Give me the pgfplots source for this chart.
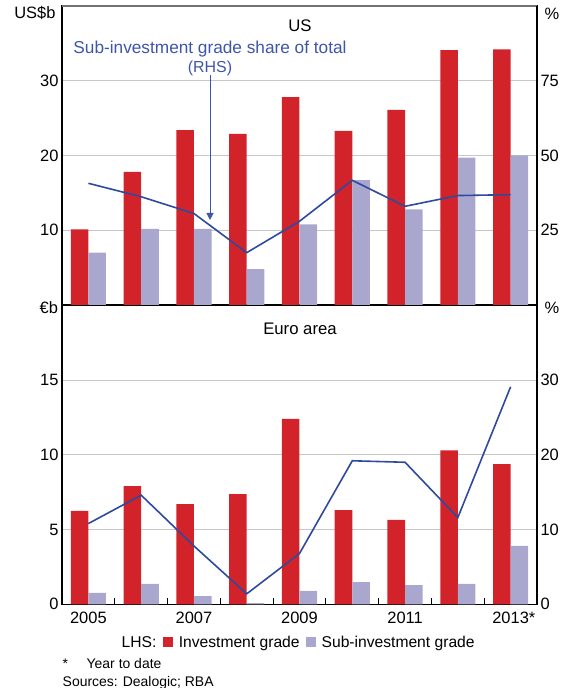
\documentclass[border=0pt]{standalone}
\usepackage{fontspec}
\setmainfont{Liberation Sans}
\usepackage{pgfplots}
\pgfplotsset{compat=1.18}
\usetikzlibrary{arrows.meta}
\definecolor{ig}{HTML}{D2232A}
\definecolor{sig}{HTML}{A9A7CE}
\definecolor{lineblue}{HTML}{2E4A9E}
\definecolor{txtblue}{HTML}{3D56AA}
\pgfplotsset{
  base/.style={
    scale only axis, width=475bp, height=299bp,
    xmin=-0.5, xmax=8.5,
    anchor=south west,
    /pgf/number format/assume math mode=true,
    tick label style={font=\fontsize{16.5}{19}\selectfont},
    ytick style={draw=none},
    axis line style={line width=1.2bp, black},
  },
  igbar/.style={ybar, bar width=0.333, bar shift=-0.1667, fill=ig, draw=none},
  sigbar/.style={ybar, bar width=0.333, bar shift=0.1667, fill=sig, draw=none},
  shareline/.style={lineblue, line width=1.6bp, mark=none},
}
\begin{document}
\begin{tikzpicture}
\useasboundingbox (0,0) rectangle (572bp,688bp);
% ---------------- US panel ----------------
\begin{axis}[base, at={(62bp,383bp)},
  ymin=0, ymax=40, ytick={10,20,30}, xtick=\empty,
  ymajorgrids, grid style={line width=1bp, color=black!22},
  yticklabel pos=left]
\addplot[igbar] coordinates {(0,10.1) (1,17.8) (2,23.4) (3,22.9) (4,27.8) (5,23.3) (6,26.1) (7,34.1) (8,34.2)};
\addplot[sigbar] coordinates {(0,7.0) (1,10.2) (2,10.2) (3,4.8) (4,10.8) (5,16.7) (6,12.8) (7,19.7) (8,20.0)};
\draw[black!55, line width=1.2bp] (rel axis cs:0,1) -- (rel axis cs:1,1);
\end{axis}
\begin{axis}[base, at={(62bp,383bp)},
  ymin=0, ymax=100, ytick={25,50,75}, xtick=\empty,
  axis y line*=right, axis x line=none]
\addplot[shareline] coordinates {(0,40.7) (1,36.2) (2,30.6) (3,17.5) (4,28.0) (5,41.7) (6,33.0) (7,36.6) (8,36.9)};
\end{axis}
% ---------------- Euro area panel ----------------
\begin{axis}[base, at={(62bp,83.7bp)},
  ymin=0, ymax=20, ytick={0,5,10,15},
  ymajorgrids, grid style={line width=1bp, color=black!22},
  yticklabel pos=left,
  xtick={0,...,8}, xticklabels={2005,,2007,,2009,,2011,,2013\rlap{*}},
  minor x tick num=1, xtick pos=left, tick align=inside,
  major tick length=0bp, minor tick length=6bp,
  minor x tick style={line width=1.2bp, black},
  xticklabel style={yshift=-4bp}]
\addplot[igbar] coordinates {(0,6.25) (1,7.9) (2,6.7) (3,7.37) (4,12.4) (5,6.3) (6,5.64) (7,10.3) (8,9.38)};
\addplot[sigbar] coordinates {(0,0.76) (1,1.36) (2,0.55) (3,0.08) (4,0.89) (5,1.49) (6,1.29) (7,1.36) (8,3.9)};
\end{axis}
\begin{axis}[base, at={(62bp,83.7bp)},
  ymin=0, ymax=40, ytick={0,10,20,30}, xtick=\empty,
  axis y line*=right, axis x line=none]
\addplot[shareline] coordinates {(0,10.8) (1,14.6) (2,7.8) (3,1.4) (4,6.8) (5,19.2) (6,19.0) (7,11.6) (8,29.1)};
\end{axis}
% ---------------- texts ----------------
\begin{scope}[every node/.style={inner sep=0pt, outer sep=0pt}]
\node[anchor=base east, font=\fontsize{16.5}{19}\selectfont] at (55.5bp,669.1bp) {US\$b};
\node[anchor=base west, font=\fontsize{16.5}{19}\selectfont] at (544.5bp,668.1bp) {\%};
\node[anchor=base east, font=\fontsize{16.5}{19}\selectfont] at (58bp,374.1bp) {€b};
\node[anchor=base west, font=\fontsize{16.5}{19}\selectfont] at (544.5bp,374.6bp) {\%};
\node[anchor=base, font=\fontsize{16.8}{19}\selectfont] at (300bp,656.1bp) {US};
\node[anchor=base, font=\fontsize{16.8}{19}\selectfont] at (300bp,353.1bp) {Euro area};
\node[anchor=base, font=\fontsize{17.3}{20}\selectfont, text=txtblue] at (210bp,634.4bp) {Sub-investment grade share of total};
\node[anchor=base, font=\fontsize{16}{19}\selectfont, text=txtblue] at (210bp,615.2bp) {(RHS)};
\draw[txtblue, line width=1bp, -{Triangle[width=7bp,length=7bp]}] (210bp,613bp) -- (210bp,468bp);
\node[anchor=base west, font=\fontsize{15.7}{18}\selectfont] at (121.7bp,40.3bp)
  {LHS:\hspace{6.3bp}{\color{ig}\rule[0.5bp]{10bp}{10bp}}\hspace{6bp}Investment grade\hspace{6bp}{\color{sig}\rule[0.5bp]{10bp}{10bp}}\hspace{6bp}Sub-investment grade};
\node[anchor=base west, font=\fontsize{14}{16}\selectfont] at (62.7bp,19.5bp) {*};
\node[anchor=base west, font=\fontsize{14}{16}\selectfont] at (86.7bp,19.5bp) {Year to date};
\node[anchor=base west, font=\fontsize{14}{16}\selectfont] at (62.7bp,2bp) {Sources: Dealogic; RBA};
\end{scope}
\end{tikzpicture}
\end{document}
